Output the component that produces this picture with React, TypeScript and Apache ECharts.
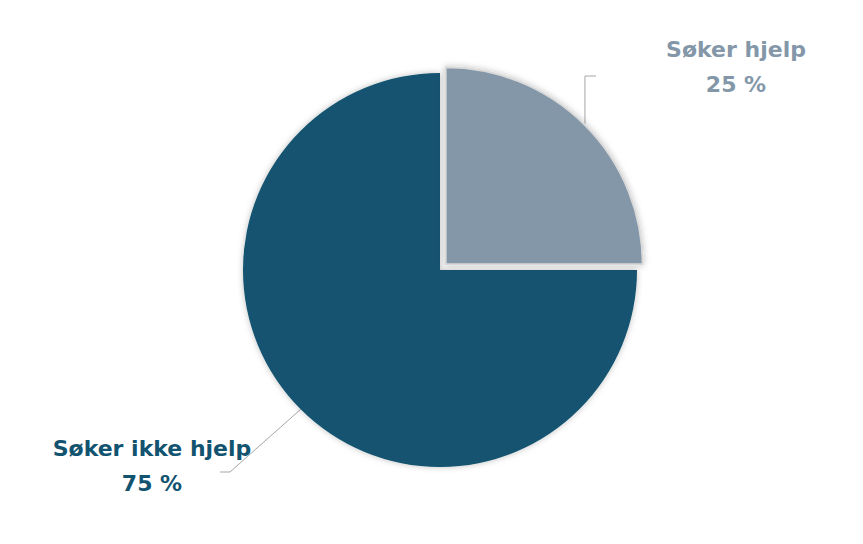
import React, { useEffect, useRef } from "react";
import * as echarts from "echarts";

const categories = ["Søker hjelp", "Søker ikke hjelp"];
const values = [25, 75];
const colors = ["#8497a9", "#12536f"];

const labelBase = {
  show: true,
  position: "outside",
  formatter: (p: any) => `${p.name}\n${p.value} %`,
  fontFamily: "DejaVu Sans",
  fontWeight: "bold",
  fontSize: 22,
  lineHeight: 35,
  align: "center",
};

export default function App() {
  const ref = useRef<HTMLDivElement>(null);
  useEffect(() => {
    if (!ref.current) return;
    const chart = echarts.init(ref.current, null, { renderer: "svg" });
    const makeData = (active: number) =>
      categories.map((name, i) =>
        i === active
          ? {
              name,
              value: values[i],
              itemStyle: {
                color: colors[i],
                borderColor: i === 0 ? "#d9d9d9" : "rgba(0,0,0,0)",
                borderWidth: i === 0 ? 2 : 0,
                shadowBlur: 6,
                shadowColor: "rgba(0,0,0,0.25)",
              },
              label: { color: colors[i] },
            }
          : {
              name,
              value: values[i],
              itemStyle: { color: "rgba(0,0,0,0)", borderWidth: 0 },
              label: { show: false },
              labelLine: { show: false },
            }
      );
    const off = 8 / Math.SQRT2;
    const layoutFor = (idx: number) => (params: any) => {
      const start = params.labelLinePoints ? params.labelLinePoints[0] : null;
      if (idx === 0) {
        const s = start || [585, 125];
        return {
          x: 736,
          y: 67,
          align: "center",
          verticalAlign: "middle",
          labelLinePoints: [s, [s[0], 76], [596, 76]],
        };
      }
      const s = start || [300, 410];
      return {
        x: 152,
        y: 466,
        align: "center",
        verticalAlign: "middle",
        labelLinePoints: [s, [230, 472], [220, 472]],
      };
    };
    const common = {
      type: "pie",
      radius: 197,
      startAngle: 90,
      clockwise: true,
      avoidLabelOverlap: false,
      emphasis: { disabled: true },
      label: labelBase,
      labelLine: {
        show: true,
        length: 20,
        length2: 10,
        lineStyle: { color: "#a6a6a6", width: 1 },
      },
    };
    chart.setOption({
      animation: false,
      backgroundColor: "#ffffff",
      series: [
        {
          ...common,
          center: [440, 270],
          labelLayout: layoutFor(1),
          data: makeData(1),
        },
        {
          ...common,
          center: [440 + off, 270 - off],
          labelLayout: layoutFor(0),
          data: makeData(0),
        },
      ],
    });
    return () => chart.dispose();
  }, []);
  return (
    <div
      ref={ref}
      style={{ position: "fixed", left: 0, top: 0, width: 863, height: 544 }}
    />
  );
}
